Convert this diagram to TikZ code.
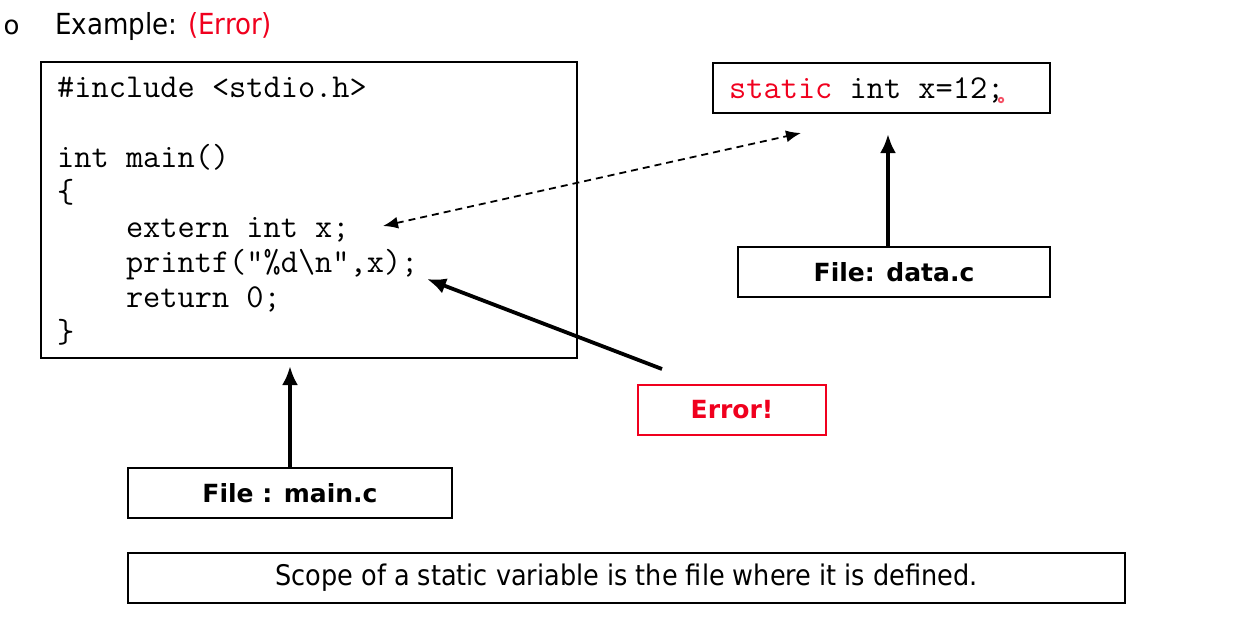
\documentclass[tikz,border=0pt]{standalone}
\usepackage{fontspec}
\setmainfont{DejaVu Sans}
\newfontfamily\condfont{DejaVu Sans Condensed}
\usetikzlibrary{arrows.meta}
\definecolor{errred}{RGB}{240,0,30}
\tikzset{
  box/.style={draw=black, line width=1.8pt, inner sep=0pt},
  codeline/.style={anchor=base west, inner sep=0pt, font=\ttfamily\fontsize{33.4}{34}\selectfont},
  label/.style={font=\bfseries\fontsize{25}{26}\selectfont},
  bigarrow/.style={line width=3.8pt, -{Latex[length=19pt,width=16pt]}},
  dasharrow/.style={line width=1.8pt, dash pattern=on 7pt off 5pt, {Latex[length=15pt,width=12pt]}-{Latex[length=15pt,width=12pt]}},
}
\begin{document}
\begin{tikzpicture}[x=1pt,y=-1pt]
\useasboundingbox (0,0) rectangle (1246,625);
\fill[white] (0,0) rectangle (1246,625);

% heading
\node[anchor=base, inner sep=0pt, font=\fontsize{26}{26}\selectfont] (bullet) at (11.5,34) {o};
\node[anchor=base west, inner sep=0pt, font=\condfont\fontsize{29}{30}\selectfont] (title) at (55,34) {Example: \textcolor{errred}{(Error)}};

% main.c box
\draw[box] (41,62) rectangle (577,358);
\coordinate (mainbot) at (290,366);
\node[codeline] (c1) at (57,97) {\#include <stdio.h>};
\node[codeline] (c2) at (57,167) {int main()};
\node[codeline] (c3) at (57,202) {\{};
\node[codeline] (c4) at (57,237) {\ \ \ \ extern int x;};
\node[codeline] (c5) at (57,272) {\ \ \ \ printf("\%d\textbackslash n",x);};
\node[codeline] (c6) at (57,307) {\ \ \ \ return 0;};
\node[codeline] (c7) at (57,342) {\}};
\coordinate (externend) at (383,226);
\coordinate (printfend) at (427,279);

% data.c definition box
\draw[box] (713,63) rectangle (1050,113);
\node[codeline] (stat) at (729,98) {\textcolor{errred}{static} int x=12;};
\coordinate (statend) at (801,133);
\coordinate (databot) at (888,134);
\fill[errred!70] (1001,100) circle (3.2pt);
\fill[white] (1001,100) circle (1.4pt);

% labels
\node[box, minimum width=312pt, minimum height=50pt, label] (datac) at (894,272) {File: data.c};
\node[box, minimum width=324pt, minimum height=50pt, label] (mainc) at (290,493) {File : main.c};
\node[box, draw=errred, minimum width=188pt, minimum height=50pt, label, text=errred] (err) at (732,410) {Error!};
\coordinate (errstart) at (662,369);
\node[box, minimum width=997pt, minimum height=50pt, font=\condfont\fontsize{28.4}{30}\selectfont] (scope) at (626.5,578) {Scope of a static variable is the file where it is defined.};

% arrows
\draw[bigarrow] (mainc.north) -- (mainbot);
\draw[bigarrow] (datac.north -| databot) -- (databot);
\draw[bigarrow] (errstart) -- (printfend);
\draw[dasharrow] (externend) -- (statend);
\end{tikzpicture}
\end{document}
